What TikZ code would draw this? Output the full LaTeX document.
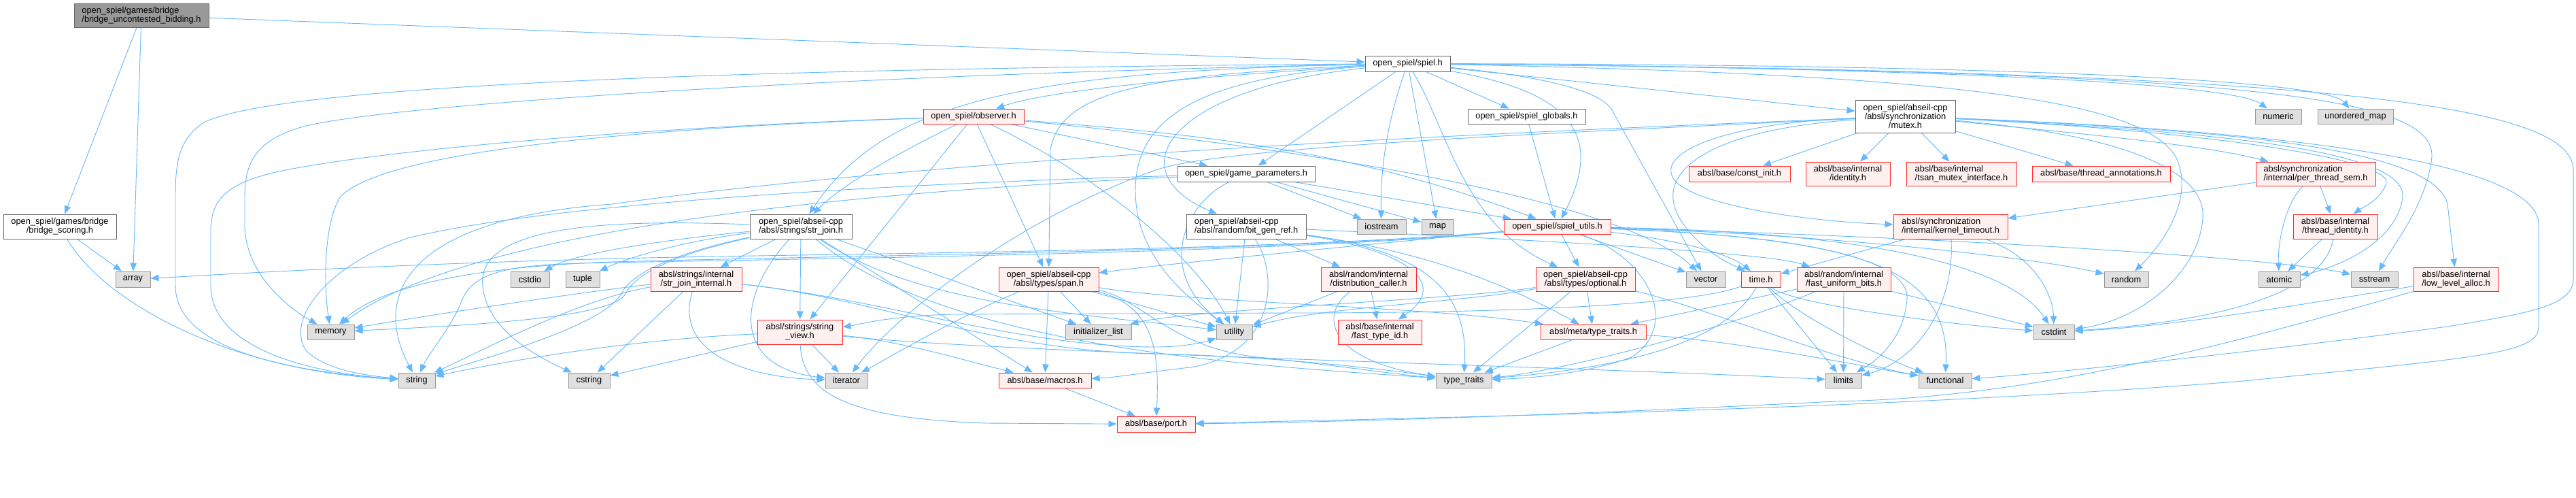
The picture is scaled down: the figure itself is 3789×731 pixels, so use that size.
\documentclass[tikz,border=0pt]{standalone}
\usepackage{fontspec}
\setmainfont{Liberation Sans}
\usetikzlibrary{arrows.meta}
\definecolor{edgec}{RGB}{99,184,255}
\definecolor{rborder}{RGB}{255,40,40}
\definecolor{rfill}{RGB}{255,240,240}
\definecolor{gborder}{RGB}{153,153,153}
\definecolor{gfill}{RGB}{224,224,224}
\definecolor{wborder}{RGB}{102,102,102}
\definecolor{rootfill}{RGB}{153,153,153}
\pgfdeclarelayer{bg}
\pgfsetlayers{bg,main}
\newcommand\nodefs{\fontsize{12.8pt}{13.2pt}\selectfont}
\begin{document}
\begin{tikzpicture}[x=1pt,y=-1pt,
  box/.style={draw, line width=1pt, inner sep=0pt, font=\nodefs, align=center, text=black},
  gbox/.style={box, fill=gfill, draw=gborder},
  rbox/.style={box, fill=rfill, draw=rborder},
  wbox/.style={box, fill=white, draw=wborder},
  rootbox/.style={box, fill=rootfill, draw=wborder},
  dep/.style={draw=edgec, line width=0.9pt, -{Triangle[length=12pt,width=9.5pt]}}]
\useasboundingbox (0,0) rectangle (3789,731);
% nodes
\node[rootbox,align=left,minimum width=198pt,minimum height=35pt] (bub) at (208,22.5) {open\_spiel/games/bridge\\/bridge\_uncontested\_bidding.h};
\node[wbox,minimum width=166pt,minimum height=36pt] (bscoring) at (88,333) {open\_spiel/games/bridge\\/bridge\_scoring.h};
\node[gbox,minimum width=51pt,minimum height=23pt] (array) at (195.5,410.5) {array};
\node[gbox,minimum width=69pt,minimum height=22pt] (memory) at (486.5,488) {memory};
\node[gbox,minimum width=54pt,minimum height=22pt] (string) at (613,559) {string};
\node[gbox,minimum width=57pt,minimum height=23pt] (cstdio) at (779.5,410.5) {cstdio};
\node[gbox,minimum width=50pt,minimum height=23pt] (tuple) at (857,410.5) {tuple};
\node[rbox,minimum width=134pt,minimum height=35pt] (sjint) at (1024,410.5) {absl/strings/internal\\/str\_join\_internal.h};
\node[wbox,minimum width=150pt,minimum height=36pt] (strjoin) at (1178,333) {open\_spiel/abseil-cpp\\/absl/strings/str\_join.h};
\node[rbox,minimum width=125pt,minimum height=36pt] (strview) at (1176.5,488) {absl/strings/string\\\_view.h};
\node[gbox,minimum width=61pt,minimum height=22pt] (cstring) at (866.5,559) {cstring};
\node[gbox,minimum width=62pt,minimum height=22pt] (iterator) at (1245,559) {iterator};
\node[rbox,minimum width=148pt,minimum height=22pt] (observer) at (1432,171) {open\_spiel/observer.h};
\node[wbox,minimum width=202pt,minimum height=23pt] (gameparams) at (1833,255.5) {open\_spiel/game\_parameters.h};
\node[wbox,align=left,minimum width=176pt,minimum height=36pt] (bitgen) at (1833,333) {open\_spiel/abseil-cpp\\/absl/random/bit\_gen\_ref.h};
\node[rbox,minimum width=147pt,minimum height=35pt] (span) at (1542.5,410.5) {open\_spiel/abseil-cpp\\/absl/types/span.h};
\node[gbox,minimum width=97pt,minimum height=22pt] (initlist) at (1615.5,488) {initializer\_list};
\node[gbox,minimum width=53pt,minimum height=22pt] (utility) at (1815.5,488) {utility};
\node[rbox,minimum width=136pt,minimum height=22pt] (macros) at (1537,559) {absl/base/macros.h};
\node[rbox,minimum width=115pt,minimum height=23pt] (port) at (1700.5,623.5) {absl/base/port.h};
\node[wbox,minimum width=125pt,minimum height=23pt] (spiel) at (2070.5,93.5) {open\_spiel/spiel.h};
\node[wbox,minimum width=173pt,minimum height=22pt] (globals) at (2245.5,171) {open\_spiel/spiel\_globals.h};
\node[gbox,minimum width=72pt,minimum height=22pt] (iostream) at (2032,333) {iostream};
\node[gbox,minimum width=47pt,minimum height=22pt] (map) at (2114.5,333) {map};
\node[rbox,minimum width=157pt,minimum height=22pt] (utils) at (2290.5,333) {open\_spiel/spiel\_utils.h};
\node[rbox,minimum width=140pt,minimum height=35pt] (distcaller) at (2013,410.5) {absl/random/internal\\/distribution\_caller.h};
\node[rbox,minimum width=146pt,minimum height=35pt] (optional) at (2332,410.5) {open\_spiel/abseil-cpp\\/absl/types/optional.h};
\node[gbox,minimum width=58pt,minimum height=23pt] (vector) at (2509,410.5) {vector};
\node[rbox,minimum width=123pt,minimum height=36pt] (fasttypeid) at (2029.5,488) {absl/base/internal\\/fast\_type\_id.h};
\node[rbox,minimum width=155pt,minimum height=22pt] (metatt) at (2343.5,488) {absl/meta/type\_traits.h};
\node[gbox,minimum width=82pt,minimum height=22pt] (typetraits) at (2153,559) {type\_traits};
\node[rbox,minimum width=149pt,minimum height=23pt] (constinit) at (2558.5,255.5) {absl/base/const\_init.h};
\node[wbox,minimum width=147pt,minimum height=48pt] (mutex) at (2802.5,171) {open\_spiel/abseil-cpp\\/absl/synchronization\\/mutex.h};
\node[rbox,minimum width=124pt,minimum height=35pt] (identity) at (2718,255.5) {absl/base/internal\\/identity.h};
\node[rbox,align=left,minimum width=162pt,minimum height=35pt] (tsan) at (2885,255.5) {absl/base/internal\\/tsan\_mutex\_interface.h};
\node[rbox,minimum width=203pt,minimum height=23pt] (threadann) at (3090.5,255.5) {absl/base/thread\_annotations.h};
\node[rbox,align=left,minimum width=168pt,minimum height=36pt] (kernel) at (2869,333) {absl/synchronization\\/internal/kernel\_timeout.h};
\node[rbox,minimum width=58pt,minimum height=23pt] (time) at (2590,410.5) {time.h};
\node[rbox,minimum width=138pt,minimum height=35pt] (fastunif) at (2712,410.5) {absl/random/internal\\/fast\_uniform\_bits.h};
\node[gbox,minimum width=65pt,minimum height=23pt] (random) at (3127.5,410.5) {random};
\node[gbox,minimum width=60pt,minimum height=22pt] (cstdint) at (3021,488) {cstdint};
\node[gbox,minimum width=53pt,minimum height=22pt] (limits) at (2711.5,559) {limits};
\node[gbox,minimum width=78pt,minimum height=22pt] (functional) at (2861,559) {functional};
\node[gbox,minimum width=68pt,minimum height=22pt] (numeric) at (3351,171) {numeric};
\node[gbox,minimum width=111pt,minimum height=22pt] (unordmap) at (3464.5,171) {unordered\_map};
\node[rbox,align=left,minimum width=176pt,minimum height=35pt] (perthread) at (3406,255.5) {absl/synchronization\\/internal/per\_thread\_sem.h};
\node[rbox,minimum width=124pt,minimum height=36pt] (threadid) at (3435,333) {absl/base/internal\\/thread\_identity.h};
\node[gbox,minimum width=61pt,minimum height=23pt] (atomic) at (3352.5,410.5) {atomic};
\node[gbox,minimum width=69pt,minimum height=23pt] (sstream) at (3492.5,410.5) {sstream};
\node[rbox,align=left,minimum width=125pt,minimum height=35pt] (lowalloc) at (3612.5,410.5) {absl/base/internal\\/low\_level\_alloc.h};
% edges
\begin{pgfonlayer}{bg}
\fill[white] (0,0) rectangle (3789,731);
% root
\draw[dep] (bub) -- (spiel);
\draw[dep] (bub) -- (bscoring);
\draw[dep] (bub) -- (array);
\draw[dep] (bscoring) -- (array);
\draw[dep] (bscoring) .. controls (150,440) and (330,545) .. (string);
% spiel
\draw[dep] (spiel) .. controls (1800,110) and (1550,130) .. (observer);
\draw[dep] (spiel) -- (gameparams);
\draw[dep] (spiel) .. controls (1720,130) and (1640,250) .. (bitgen);
\draw[dep] (spiel) .. controls (1500,105) and (1300,150) .. (strjoin);
\draw[dep] (spiel) .. controls (1700,110) and (1560,130) .. (1545,220) -- (span);
\draw[dep] (spiel) -- (globals);
\draw[dep] (spiel) .. controls (2280,130) and (2370,180) .. (utils);
\draw[dep] (spiel) .. controls (2130,190) and (2150,330) .. (optional);
\draw[dep] (spiel) .. controls (2040,180) and (2030,250) .. (iostream);
\draw[dep] (spiel) -- (map);
\draw[dep] (spiel) .. controls (2250,110) and (2350,130) .. (2370,160) -- (vector);
\draw[dep] (spiel) -- (mutex);
\draw[dep] (spiel) .. controls (2800,100) and (3280,120) .. (numeric);
\draw[dep] (spiel) .. controls (2900,95) and (3420,115) .. (unordmap);
\draw[dep] (spiel) .. controls (3300,105) and (3580,140) .. (3577,230) .. controls (3570,300) and (3520,360) .. (sstream);
\draw[dep] (spiel) .. controls (3400,105) and (3785,150) .. (3785,250) -- (3785,410) .. controls (3785,450) and (3720,460) .. (3600,480) .. controls (3300,520) and (3000,550) .. (functional);
\draw[dep] (spiel) .. controls (2900,110) and (3150,150) .. (3200,230) .. controls (3230,290) and (3180,360) .. (random);
\draw[dep] (spiel) .. controls (1300,108) and (600,150) .. (450,185) .. controls (375,205) and (360,240) .. (360,290) -- (360,330) .. controls (360,400) and (420,450) .. (memory);
\draw[dep] (spiel) .. controls (1200,100) and (420,120) .. (300,180) .. controls (262,205) and (258,240) .. (258,290) -- (258,420) .. controls (258,520) and (450,548) .. (string);
\draw[dep] (spiel) .. controls (1750,115) and (1670,180) .. (1670,280) .. controls (1670,380) and (1750,440) .. (utility);
% observer
\draw[dep] (observer) .. controls (1000,185) and (600,215) .. (420,250) .. controls (330,268) and (310,295) .. (310,340) -- (310,420) .. controls (310,510) and (450,548) .. (string);
\draw[dep] (observer) .. controls (900,190) and (560,225) .. (500,290) .. controls (476,330) and (476,420) .. (memory);
\draw[dep] (observer) .. controls (1330,220) and (1240,270) .. (strjoin);
\draw[dep] (observer) -- (strview);
\draw[dep] (observer) -- (span);
\draw[dep] (observer) -- (gameparams);
\draw[dep] (observer) .. controls (1800,200) and (2000,225) .. (utils);
\draw[dep] (observer) .. controls (1900,215) and (2380,290) .. (vector);
\draw[dep] (observer) .. controls (1620,260) and (1760,380) .. (utility);
% game parameters
\draw[dep] (gameparams) -- (iostream);
\draw[dep] (gameparams) -- (map);
\draw[dep] (gameparams) -- (utils);
\draw[dep] (gameparams) .. controls (1300,270) and (800,300) .. (600,350) .. controls (480,390) and (420,470) .. (450,515) .. controls (480,545) and (540,552) .. (string);
\draw[dep] (gameparams) .. controls (1300,280) and (700,330) .. (memory);
\draw[dep] (gameparams) .. controls (1740,300) and (1700,400) .. (utility);
\draw[dep] (globals) -- (utils);
% spiel utils
\draw[dep] (utils) .. controls (1900,368) and (1300,372) .. (1000,378) .. controls (600,386) and (300,405) .. (array);
\draw[dep] (utils) .. controls (1900,372) and (1200,380) .. (900,386) .. controls (760,388) and (700,395) .. (680,440) .. controls (665,480) and (630,520) .. (string);
\draw[dep] (utils) .. controls (1900,370) and (1200,376) .. (900,385) .. controls (700,392) and (560,420) .. (memory);
\draw[dep] (utils) .. controls (1900,370) and (1700,390) .. (span);
\draw[dep] (utils) -- (optional);
\draw[dep] (utils) -- (vector);
\draw[dep] (utils) .. controls (2430,380) and (2470,480) .. (2400,525) .. controls (2330,550) and (2250,556) .. (typetraits);
\draw[dep] (utils) .. controls (2450,350) and (2540,370) .. (time);
\draw[dep] (utils) .. controls (2700,340) and (2950,380) .. (cstdint);
\draw[dep] (utils) .. controls (2700,345) and (3000,380) .. (random);
\draw[dep] (utils) .. controls (2900,350) and (3350,380) .. (sstream);
\draw[dep] (utils) .. controls (2600,345) and (2810,370) .. (2805,440) .. controls (2800,500) and (2760,530) .. (limits);
\draw[dep] (utils) .. controls (2700,350) and (2870,380) .. (functional);
% bit_gen_ref
\draw[dep] (bitgen) -- (utility);
\draw[dep] (bitgen) .. controls (1880,400) and (1880,520) .. (1750,540) .. controls (1680,548) and (1640,555) .. (macros);
\draw[dep] (bitgen) -- (distcaller);
\draw[dep] (bitgen) .. controls (2080,370) and (2130,420) .. (fasttypeid);
\draw[dep] (bitgen) .. controls (2100,370) and (2160,430) .. (typetraits);
\draw[dep] (bitgen) .. controls (2100,370) and (2220,420) .. (metatt);
\draw[dep] (bitgen) .. controls (2200,350) and (2600,370) .. (fastunif);
% str_join
\draw[dep] (strjoin) .. controls (1000,350) and (850,370) .. (cstdio);
\draw[dep] (strjoin) .. controls (1000,355) and (920,380) .. (tuple);
\draw[dep] (strjoin) -- (sjint);
\draw[dep] (strjoin) -- (strview);
\draw[dep] (strjoin) .. controls (1080,440) and (1080,540) .. (iterator);
\draw[dep] (strjoin) .. controls (900,322) and (700,330) .. (710,420) .. controls (715,480) and (780,520) .. (cstring);
\draw[dep] (strjoin) .. controls (1000,370) and (930,400) .. (915,430) .. controls (890,480) and (700,530) .. (string);
\draw[dep] (strjoin) .. controls (1000,372) and (935,400) .. (920,432) .. controls (900,470) and (650,480) .. (memory);
\draw[dep] (strjoin) -- (initlist);
\draw[dep] (strjoin) .. controls (1350,450) and (1600,462) .. (utility);
\draw[dep] (strjoin) -- (macros);
\draw[dep] (strjoin) .. controls (1400,520) and (1900,540) .. (typetraits);
% str_join_internal
\draw[dep] (sjint) .. controls (850,440) and (700,520) .. (string);
\draw[dep] (sjint) -- (cstring);
\draw[dep] (sjint) .. controls (990,520) and (1100,555) .. (iterator);
\draw[dep] (sjint) .. controls (850,430) and (620,465) .. (memory);
\draw[dep] (sjint) .. controls (1300,440) and (1450,515) .. (1700,520) .. controls (1900,525) and (2050,545) .. (typetraits);
\draw[dep] (sjint) .. controls (1300,440) and (1500,510) .. (1700,510) .. controls (1750,510) and (1780,500) .. (utility);
% string_view
\draw[dep] (strview) .. controls (900,500) and (700,540) .. (string);
\draw[dep] (strview) -- (cstring);
\draw[dep] (strview) -- (iterator);
\draw[dep] (strview) .. controls (1500,520) and (2300,538) .. (limits);
\draw[dep] (strview) .. controls (1180,580) and (1250,615) .. (1450,622) -- (port);
\draw[dep] (strview) .. controls (1320,500) and (1420,530) .. (macros);
% span
\draw[dep] (span) -- (initlist);
\draw[dep] (span) .. controls (1400,470) and (1300,530) .. (iterator);
\draw[dep] (span) .. controls (1680,440) and (1720,510) .. (1850,525) .. controls (1950,535) and (2050,550) .. (typetraits);
\draw[dep] (span) -- (utility);
\draw[dep] (span) -- (macros);
\draw[dep] (span) .. controls (1700,450) and (1705,520) .. (port);
\draw[dep] (span) .. controls (1750,445) and (2100,450) .. (metatt);
% optional
\draw[dep] (optional) -- (metatt);
\draw[dep] (optional) -- (typetraits);
\draw[dep] (optional) .. controls (2150,445) and (1950,450) .. (utility);
\draw[dep] (optional) .. controls (2150,440) and (1750,455) .. (initlist);
\draw[dep] (optional) .. controls (2500,450) and (2700,530) .. (functional);
% distribution caller
\draw[dep] (distcaller) -- (fasttypeid);
\draw[dep] (distcaller) .. controls (1940,460) and (1950,530) .. (typetraits);
\draw[dep] (distcaller) -- (utility);
% meta type traits, macros
\draw[dep] (metatt) -- (typetraits);
\draw[dep] (metatt) .. controls (2550,500) and (2750,540) .. (functional);
\draw[dep] (macros) -- (port);
% fast uniform bits
\draw[dep] (fastunif) -- (limits);
\draw[dep] (fastunif) -- (cstdint);
\draw[dep] (fastunif) .. controls (2550,480) and (2300,545) .. (typetraits);
\draw[dep] (fastunif) -- (metatt);
% time
\draw[dep] (time) -- (limits);
\draw[dep] (time) .. controls (2640,450) and (2900,480) .. (cstdint);
\draw[dep] (time) .. controls (2650,470) and (2780,530) .. (functional);
\draw[dep] (time) .. controls (2540,500) and (2400,540) .. (typetraits);
\draw[dep] (time) .. controls (2480,450) and (2200,460) .. (1900,460) -- (1400,462) .. controls (1300,465) and (1260,478) .. (strview);
% kernel timeout
\draw[dep] (kernel) -- (time);
\draw[dep] (kernel) .. controls (3000,380) and (3020,440) .. (cstdint);
\draw[dep] (kernel) .. controls (2875,450) and (2820,530) .. (limits);
% mutex
\draw[dep] (mutex) -- (constinit);
\draw[dep] (mutex) -- (identity);
\draw[dep] (mutex) -- (tsan);
\draw[dep] (mutex) -- (threadann);
\draw[dep] (mutex) .. controls (3100,200) and (3250,215) .. (perthread);
\draw[dep] (mutex) .. controls (3200,190) and (3520,230) .. (3510,270) .. controls (3500,295) and (3475,305) .. (threadid);
\draw[dep] (mutex) .. controls (3300,195) and (3540,225) .. (3534,290) .. controls (3525,360) and (3430,395) .. (atomic);
\draw[dep] (mutex) .. controls (3300,192) and (3580,220) .. (3600,300) -- (lowalloc);
\draw[dep] (mutex) .. controls (3150,200) and (3245,260) .. (3240,320) .. controls (3235,400) and (3150,470) .. (cstdint);
\draw[dep] (mutex) .. controls (3300,190) and (3734,230) .. (3734,330) -- (3734,480) .. controls (3734,520) and (3650,525) .. (3300,560) .. controls (2800,600) and (2200,612) .. (port);
\draw[dep] (mutex) .. controls (2550,180) and (2440,220) .. (2460,260) .. controls (2480,300) and (2650,325) .. (kernel);
\draw[dep] (mutex) .. controls (2520,190) and (2430,250) .. (2470,320) .. controls (2500,370) and (2550,390) .. (time);
\draw[dep] (mutex) .. controls (2300,195) and (1800,215) .. (1700,250) .. controls (1500,320) and (1320,460) .. (iterator);
\draw[dep] (mutex) .. controls (2200,195) and (1400,230) .. (900,300) .. controls (620,320) and (540,420) .. (string);
% per thread sem, thread identity, low level alloc
\draw[dep] (perthread) .. controls (3360,300) and (3350,360) .. (atomic);
\draw[dep] (perthread) -- (threadid);
\draw[dep] (perthread) -- (kernel);
\draw[dep] (threadid) -- (atomic);
\draw[dep] (threadid) .. controls (3420,420) and (3300,470) .. (cstdint);
\draw[dep] (lowalloc) .. controls (3400,445) and (3200,480) .. (cstdint);
\draw[dep] (lowalloc) .. controls (3300,500) and (3000,585) .. (2700,590) .. controls (2300,610) and (2000,620) .. (port);
\end{pgfonlayer}
\end{tikzpicture}
\end{document}
